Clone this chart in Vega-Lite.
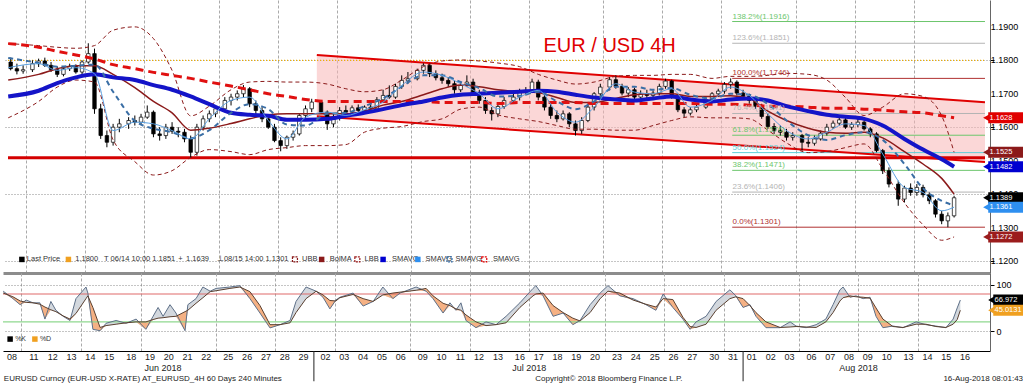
{
"$schema": "https://vega.github.io/schema/vega-lite/v6.json",
"padding": 0,
"background": "white",
"spacing": 0,
"bounds": "flush",
"config": {"view": {"stroke": null}, "font": "Liberation Sans, Arial, sans-serif", "axis": {"labelFont": "Liberation Sans, Arial, sans-serif", "labelFontSize": 9, "labelOverlap": false}, "text": {"font": "Liberation Sans, Arial, sans-serif"}},
"datasets": {
"one": [{}],
"plabels": [{"v":1.12,"t":"1.1200"},{"v":1.13,"t":"1.1300"},{"v":1.14,"t":"1.1400"},{"v":1.15,"t":"1.1500"},{"v":1.16,"t":"1.1600"},{"v":1.17,"t":"1.1700"},{"v":1.18,"t":"1.1800"},{"v":1.19,"t":"1.1900"}],
"chan": [{"i":96.65,"up":1.18156,"lo":1.16326},{"i":311.96,"up":1.16744,"lo":1.14958}],
"fib": [
{"v":1.1916,"t":"138.2%(1.1916)","k":"fg"},
{"v":1.1851,"t":"123.6%(1.1851)","k":"fy"},
{"v":1.1746,"t":"100.0%(1.1746)","k":"fr"},
{"v":1.1641,"t":"76.4%(1.1641)","k":"fy"},
{"v":1.1576,"t":"61.8%(1.1576)","k":"fg"},
{"v":1.1524,"t":"50.0%(1.1524)","k":"fc"},
{"v":1.1471,"t":"38.2%(1.1471)","k":"fg"},
{"v":1.1406,"t":"23.6%(1.1406)","k":"fy"},
{"v":1.1301,"t":"0.0%(1.1301)","k":"fr"}],
"candles": [
{"i":-2,"o":1.1795,"h":1.1808,"l":1.177,"c":1.1775},
{"i":0,"o":1.1775,"h":1.179,"l":1.1758,"c":1.1768},
{"i":2,"o":1.1768,"h":1.1785,"l":1.176,"c":1.1772},
{"i":5,"o":1.1772,"h":1.18,"l":1.1765,"c":1.179},
{"i":7,"o":1.179,"h":1.1805,"l":1.178,"c":1.1798},
{"i":9,"o":1.1798,"h":1.1808,"l":1.178,"c":1.1785},
{"i":11,"o":1.1785,"h":1.1795,"l":1.1765,"c":1.1772},
{"i":13,"o":1.1772,"h":1.1782,"l":1.175,"c":1.1758},
{"i":15,"o":1.1758,"h":1.178,"l":1.1752,"c":1.1775},
{"i":17,"o":1.1775,"h":1.179,"l":1.1768,"c":1.1782},
{"i":19,"o":1.1782,"h":1.1788,"l":1.176,"c":1.1765},
{"i":21,"o":1.1765,"h":1.18,"l":1.1758,"c":1.1795},
{"i":23,"o":1.1795,"h":1.1851,"l":1.179,"c":1.182},
{"i":25,"o":1.182,"h":1.1835,"l":1.164,"c":1.1655},
{"i":27,"o":1.1655,"h":1.167,"l":1.1565,"c":1.1575},
{"i":29,"o":1.1575,"h":1.159,"l":1.154,"c":1.1555},
{"i":31,"o":1.1555,"h":1.161,"l":1.1545,"c":1.16},
{"i":33,"o":1.16,"h":1.1625,"l":1.1585,"c":1.161},
{"i":36,"o":1.161,"h":1.163,"l":1.1595,"c":1.162},
{"i":38,"o":1.162,"h":1.1635,"l":1.1605,"c":1.1615},
{"i":40,"o":1.1615,"h":1.164,"l":1.1608,"c":1.163},
{"i":42,"o":1.163,"h":1.1665,"l":1.1625,"c":1.1645},
{"i":44,"o":1.1645,"h":1.165,"l":1.157,"c":1.158},
{"i":46,"o":1.158,"h":1.16,"l":1.156,"c":1.1575},
{"i":48,"o":1.1575,"h":1.161,"l":1.1565,"c":1.16},
{"i":50,"o":1.16,"h":1.1615,"l":1.158,"c":1.1588},
{"i":52,"o":1.1588,"h":1.16,"l":1.157,"c":1.1585},
{"i":54,"o":1.1585,"h":1.1595,"l":1.1555,"c":1.1565},
{"i":56,"o":1.1565,"h":1.1575,"l":1.1508,"c":1.1525},
{"i":58,"o":1.1525,"h":1.161,"l":1.1515,"c":1.16},
{"i":60,"o":1.16,"h":1.1635,"l":1.159,"c":1.1625},
{"i":62,"o":1.1625,"h":1.165,"l":1.1615,"c":1.164},
{"i":64,"o":1.164,"h":1.1665,"l":1.163,"c":1.1655},
{"i":67,"o":1.1655,"h":1.169,"l":1.1645,"c":1.168},
{"i":69,"o":1.168,"h":1.17,"l":1.1665,"c":1.169},
{"i":71,"o":1.169,"h":1.171,"l":1.168,"c":1.17},
{"i":73,"o":1.17,"h":1.1726,"l":1.169,"c":1.1715},
{"i":75,"o":1.1715,"h":1.172,"l":1.166,"c":1.167},
{"i":77,"o":1.167,"h":1.168,"l":1.164,"c":1.165},
{"i":79,"o":1.165,"h":1.166,"l":1.1615,"c":1.1625},
{"i":81,"o":1.1625,"h":1.1635,"l":1.1595,"c":1.16},
{"i":83,"o":1.16,"h":1.161,"l":1.1555,"c":1.156},
{"i":85,"o":1.156,"h":1.157,"l":1.1528,"c":1.1545},
{"i":87,"o":1.1545,"h":1.1575,"l":1.1535,"c":1.157},
{"i":89,"o":1.157,"h":1.159,"l":1.156,"c":1.158},
{"i":91,"o":1.158,"h":1.164,"l":1.1575,"c":1.1635},
{"i":93,"o":1.1635,"h":1.1665,"l":1.1625,"c":1.1655},
{"i":95,"o":1.1655,"h":1.1685,"l":1.1645,"c":1.1675},
{"i":98,"o":1.1675,"h":1.168,"l":1.164,"c":1.1645},
{"i":100,"o":1.1645,"h":1.165,"l":1.1592,"c":1.161},
{"i":102,"o":1.161,"h":1.164,"l":1.16,"c":1.163},
{"i":104,"o":1.163,"h":1.166,"l":1.162,"c":1.165},
{"i":106,"o":1.165,"h":1.1665,"l":1.1635,"c":1.1645},
{"i":108,"o":1.1645,"h":1.1665,"l":1.164,"c":1.1658},
{"i":110,"o":1.1658,"h":1.1668,"l":1.164,"c":1.165},
{"i":112,"o":1.165,"h":1.1665,"l":1.1645,"c":1.166},
{"i":114,"o":1.166,"h":1.1668,"l":1.1648,"c":1.1655},
{"i":116,"o":1.1655,"h":1.169,"l":1.165,"c":1.1682},
{"i":118,"o":1.1682,"h":1.1712,"l":1.1675,"c":1.1695},
{"i":120,"o":1.1695,"h":1.1725,"l":1.1685,"c":1.169},
{"i":122,"o":1.169,"h":1.173,"l":1.1685,"c":1.1722},
{"i":124,"o":1.1722,"h":1.1755,"l":1.1715,"c":1.174},
{"i":126,"o":1.174,"h":1.1765,"l":1.173,"c":1.1745},
{"i":129,"o":1.1745,"h":1.1775,"l":1.174,"c":1.177},
{"i":131,"o":1.177,"h":1.1791,"l":1.176,"c":1.1785},
{"i":133,"o":1.1785,"h":1.179,"l":1.175,"c":1.176},
{"i":135,"o":1.176,"h":1.177,"l":1.174,"c":1.1748},
{"i":137,"o":1.1748,"h":1.176,"l":1.173,"c":1.174},
{"i":139,"o":1.174,"h":1.175,"l":1.172,"c":1.173},
{"i":141,"o":1.173,"h":1.174,"l":1.17,"c":1.1712},
{"i":143,"o":1.1712,"h":1.1735,"l":1.1705,"c":1.1725},
{"i":145,"o":1.1725,"h":1.1755,"l":1.172,"c":1.1735},
{"i":147,"o":1.1735,"h":1.1745,"l":1.1695,"c":1.17},
{"i":149,"o":1.17,"h":1.1712,"l":1.167,"c":1.168},
{"i":151,"o":1.168,"h":1.169,"l":1.164,"c":1.165},
{"i":153,"o":1.165,"h":1.166,"l":1.162,"c":1.164},
{"i":155,"o":1.164,"h":1.167,"l":1.163,"c":1.1662},
{"i":157,"o":1.1662,"h":1.169,"l":1.1655,"c":1.168},
{"i":160,"o":1.168,"h":1.17,"l":1.167,"c":1.169},
{"i":162,"o":1.169,"h":1.1715,"l":1.168,"c":1.1708},
{"i":164,"o":1.1708,"h":1.172,"l":1.1695,"c":1.171},
{"i":166,"o":1.171,"h":1.1745,"l":1.1705,"c":1.1735},
{"i":168,"o":1.1735,"h":1.1742,"l":1.168,"c":1.169},
{"i":170,"o":1.169,"h":1.17,"l":1.165,"c":1.166},
{"i":172,"o":1.166,"h":1.167,"l":1.1625,"c":1.1635},
{"i":174,"o":1.1635,"h":1.165,"l":1.1615,"c":1.1625},
{"i":176,"o":1.1625,"h":1.165,"l":1.162,"c":1.164},
{"i":178,"o":1.164,"h":1.1645,"l":1.16,"c":1.161},
{"i":180,"o":1.161,"h":1.162,"l":1.1575,"c":1.159},
{"i":182,"o":1.159,"h":1.163,"l":1.158,"c":1.162},
{"i":184,"o":1.162,"h":1.167,"l":1.1615,"c":1.166},
{"i":186,"o":1.166,"h":1.1705,"l":1.165,"c":1.17},
{"i":188,"o":1.17,"h":1.173,"l":1.169,"c":1.172},
{"i":191,"o":1.172,"h":1.175,"l":1.171,"c":1.1742},
{"i":193,"o":1.1742,"h":1.1755,"l":1.1715,"c":1.1722},
{"i":195,"o":1.1722,"h":1.173,"l":1.1695,"c":1.1702},
{"i":197,"o":1.1702,"h":1.172,"l":1.169,"c":1.1712},
{"i":199,"o":1.1712,"h":1.1718,"l":1.168,"c":1.169},
{"i":201,"o":1.169,"h":1.171,"l":1.1685,"c":1.17},
{"i":203,"o":1.17,"h":1.1712,"l":1.1685,"c":1.1695},
{"i":205,"o":1.1695,"h":1.171,"l":1.1688,"c":1.1702},
{"i":207,"o":1.1702,"h":1.173,"l":1.1695,"c":1.1722},
{"i":209,"o":1.1722,"h":1.1745,"l":1.1715,"c":1.1738},
{"i":211,"o":1.1738,"h":1.1742,"l":1.1685,"c":1.1692},
{"i":213,"o":1.1692,"h":1.17,"l":1.1645,"c":1.1652},
{"i":215,"o":1.1652,"h":1.166,"l":1.163,"c":1.1642},
{"i":217,"o":1.1642,"h":1.166,"l":1.1635,"c":1.1652},
{"i":219,"o":1.1652,"h":1.167,"l":1.1645,"c":1.166},
{"i":222,"o":1.166,"h":1.169,"l":1.1655,"c":1.1682},
{"i":224,"o":1.1682,"h":1.1705,"l":1.1675,"c":1.17},
{"i":226,"o":1.17,"h":1.1715,"l":1.169,"c":1.1708},
{"i":228,"o":1.1708,"h":1.1735,"l":1.17,"c":1.1728},
{"i":230,"o":1.1728,"h":1.1746,"l":1.1715,"c":1.1735},
{"i":232,"o":1.1735,"h":1.174,"l":1.1695,"c":1.1702},
{"i":234,"o":1.1702,"h":1.1712,"l":1.1685,"c":1.1692},
{"i":236,"o":1.1692,"h":1.17,"l":1.167,"c":1.168},
{"i":238,"o":1.168,"h":1.169,"l":1.1655,"c":1.1662},
{"i":240,"o":1.1662,"h":1.167,"l":1.1625,"c":1.1632},
{"i":242,"o":1.1632,"h":1.164,"l":1.1595,"c":1.1602},
{"i":244,"o":1.1602,"h":1.1612,"l":1.158,"c":1.159},
{"i":246,"o":1.159,"h":1.1605,"l":1.1575,"c":1.1585},
{"i":248,"o":1.1585,"h":1.1595,"l":1.156,"c":1.157},
{"i":250,"o":1.157,"h":1.1585,"l":1.156,"c":1.1575},
{"i":253,"o":1.1575,"h":1.158,"l":1.153,"c":1.1555},
{"i":255,"o":1.1555,"h":1.157,"l":1.154,"c":1.1552},
{"i":257,"o":1.1552,"h":1.1575,"l":1.1545,"c":1.1565},
{"i":259,"o":1.1565,"h":1.159,"l":1.156,"c":1.1582},
{"i":261,"o":1.1582,"h":1.161,"l":1.1575,"c":1.16},
{"i":263,"o":1.16,"h":1.162,"l":1.1595,"c":1.1612},
{"i":265,"o":1.1612,"h":1.163,"l":1.1605,"c":1.1622},
{"i":267,"o":1.1622,"h":1.1628,"l":1.1595,"c":1.16},
{"i":269,"o":1.16,"h":1.1615,"l":1.1592,"c":1.1608},
{"i":271,"o":1.1608,"h":1.1625,"l":1.16,"c":1.1615},
{"i":273,"o":1.1615,"h":1.162,"l":1.159,"c":1.1595},
{"i":275,"o":1.1595,"h":1.16,"l":1.157,"c":1.158},
{"i":277,"o":1.158,"h":1.1585,"l":1.1525,"c":1.153},
{"i":279,"o":1.153,"h":1.1535,"l":1.146,"c":1.147},
{"i":281,"o":1.147,"h":1.148,"l":1.142,"c":1.143},
{"i":284,"o":1.143,"h":1.144,"l":1.1365,"c":1.1385},
{"i":286,"o":1.1385,"h":1.1425,"l":1.1375,"c":1.1418},
{"i":288,"o":1.1418,"h":1.1432,"l":1.1395,"c":1.1405},
{"i":290,"o":1.1405,"h":1.143,"l":1.1395,"c":1.142},
{"i":292,"o":1.142,"h":1.1428,"l":1.139,"c":1.1398},
{"i":294,"o":1.1398,"h":1.1405,"l":1.137,"c":1.138},
{"i":296,"o":1.138,"h":1.1385,"l":1.133,"c":1.134},
{"i":298,"o":1.134,"h":1.135,"l":1.131,"c":1.132},
{"i":300,"o":1.132,"h":1.1345,"l":1.1301,"c":1.1335},
{"i":302,"o":1.1335,"h":1.1395,"l":1.133,"c":1.1389}],
"ind": [
{"i":-2.8,"sl":1.1692,"sr":1.185,"ma":1.1741,"ub":1.185,"lb":1.1628,"sm":1.1807,"sf":1.1778},
{"i":7,"sl":1.1709,"sr":1.1839,"ma":1.1758,"ub":1.1844,"lb":1.1677,"sm":1.1792,"sf":1.179},
{"i":13,"sl":1.1732,"sr":1.1827,"ma":1.1775,"ub":1.1839,"lb":1.172,"sm":1.1781,"sf":1.177},
{"i":19,"sl":1.1749,"sr":1.1816,"ma":1.1784,"ub":1.1836,"lb":1.1741,"sm":1.1784,"sf":1.1778},
{"i":25,"sl":1.1758,"sr":1.1804,"ma":1.1784,"ub":1.1844,"lb":1.1735,"sm":1.1787,"sf":1.176},
{"i":31,"sl":1.1749,"sr":1.1787,"ma":1.1758,"ub":1.189,"lb":1.1562,"sm":1.1706,"sf":1.159},
{"i":38,"sl":1.1741,"sr":1.1775,"ma":1.1718,"ub":1.19,"lb":1.1497,"sm":1.1619,"sf":1.1615},
{"i":44,"sl":1.1726,"sr":1.1764,"ma":1.1677,"ub":1.1865,"lb":1.1457,"sm":1.1596,"sf":1.161},
{"i":50,"sl":1.1712,"sr":1.1755,"ma":1.1643,"ub":1.177,"lb":1.147,"sm":1.1585,"sf":1.159},
{"i":56,"sl":1.1692,"sr":1.1746,"ma":1.1591,"ub":1.1634,"lb":1.151,"sm":1.1567,"sf":1.1565},
{"i":62,"sl":1.1669,"sr":1.1735,"ma":1.1597,"ub":1.1663,"lb":1.1533,"sm":1.1591,"sf":1.1625},
{"i":69,"sl":1.1643,"sr":1.1723,"ma":1.1611,"ub":1.1712,"lb":1.1527,"sm":1.1643,"sf":1.168},
{"i":75,"sl":1.1637,"sr":1.1712,"ma":1.1625,"ub":1.1735,"lb":1.1518,"sm":1.1669,"sf":1.169},
{"i":81,"sl":1.1634,"sr":1.17,"ma":1.1637,"ub":1.1737,"lb":1.1533,"sm":1.1654,"sf":1.162},
{"i":87,"sl":1.1622,"sr":1.1692,"ma":1.164,"ub":1.1735,"lb":1.1539,"sm":1.1608,"sf":1.1565},
{"i":93,"sl":1.1622,"sr":1.1683,"ma":1.164,"ub":1.1735,"lb":1.1545,"sm":1.1605,"sf":1.163},
{"i":100,"sl":1.1625,"sr":1.1677,"ma":1.164,"ub":1.1729,"lb":1.1545,"sm":1.164,"sf":1.1645},
{"i":106,"sl":1.1634,"sr":1.1677,"ma":1.164,"ub":1.1715,"lb":1.1548,"sm":1.1643,"sf":1.1635},
{"i":112,"sl":1.1643,"sr":1.1677,"ma":1.1648,"ub":1.1706,"lb":1.1585,"sm":1.1663,"sf":1.1652},
{"i":118,"sl":1.1654,"sr":1.1677,"ma":1.1666,"ub":1.1712,"lb":1.1597,"sm":1.1686,"sf":1.1675},
{"i":124,"sl":1.1666,"sr":1.1677,"ma":1.1677,"ub":1.1741,"lb":1.1602,"sm":1.1721,"sf":1.1725},
{"i":131,"sl":1.1677,"sr":1.1677,"ma":1.1697,"ub":1.1781,"lb":1.1617,"sm":1.1755,"sf":1.1765},
{"i":137,"sl":1.1689,"sr":1.1674,"ma":1.1715,"ub":1.1798,"lb":1.1625,"sm":1.1755,"sf":1.1755},
{"i":143,"sl":1.1697,"sr":1.1674,"ma":1.1726,"ub":1.1801,"lb":1.1654,"sm":1.1735,"sf":1.173},
{"i":149,"sl":1.17,"sr":1.1674,"ma":1.1721,"ub":1.1798,"lb":1.166,"sm":1.1717,"sf":1.17},
{"i":155,"sl":1.1703,"sr":1.1671,"ma":1.1712,"ub":1.1792,"lb":1.1637,"sm":1.1692,"sf":1.1655},
{"i":162,"sl":1.1706,"sr":1.1674,"ma":1.1706,"ub":1.1781,"lb":1.1625,"sm":1.1694,"sf":1.169},
{"i":168,"sl":1.1709,"sr":1.1674,"ma":1.1703,"ub":1.1758,"lb":1.1617,"sm":1.1706,"sf":1.171},
{"i":174,"sl":1.1706,"sr":1.1674,"ma":1.1689,"ub":1.1741,"lb":1.1605,"sm":1.1677,"sf":1.1645},
{"i":180,"sl":1.1697,"sr":1.1674,"ma":1.1674,"ub":1.1729,"lb":1.1594,"sm":1.1654,"sf":1.1615},
{"i":186,"sl":1.1689,"sr":1.1671,"ma":1.1674,"ub":1.1735,"lb":1.1594,"sm":1.1677,"sf":1.166},
{"i":193,"sl":1.1683,"sr":1.1671,"ma":1.1686,"ub":1.1752,"lb":1.1591,"sm":1.1721,"sf":1.173},
{"i":199,"sl":1.168,"sr":1.1671,"ma":1.1697,"ub":1.1755,"lb":1.1591,"sm":1.1721,"sf":1.1705},
{"i":205,"sl":1.1686,"sr":1.1671,"ma":1.17,"ub":1.1755,"lb":1.1605,"sm":1.1712,"sf":1.17},
{"i":211,"sl":1.1692,"sr":1.1671,"ma":1.17,"ub":1.1758,"lb":1.162,"sm":1.1717,"sf":1.1715},
{"i":217,"sl":1.1683,"sr":1.1671,"ma":1.1692,"ub":1.1758,"lb":1.1631,"sm":1.1697,"sf":1.166},
{"i":224,"sl":1.1677,"sr":1.1669,"ma":1.1692,"ub":1.1746,"lb":1.1628,"sm":1.1686,"sf":1.168},
{"i":230,"sl":1.1683,"sr":1.1669,"ma":1.1694,"ub":1.1752,"lb":1.1628,"sm":1.17,"sf":1.172},
{"i":236,"sl":1.1686,"sr":1.1666,"ma":1.1686,"ub":1.1752,"lb":1.1625,"sm":1.1697,"sf":1.1695},
{"i":242,"sl":1.168,"sr":1.1663,"ma":1.1648,"ub":1.1755,"lb":1.1591,"sm":1.1669,"sf":1.164},
{"i":248,"sl":1.1663,"sr":1.1663,"ma":1.162,"ub":1.1761,"lb":1.1553,"sm":1.162,"sf":1.159},
{"i":255,"sl":1.1648,"sr":1.166,"ma":1.1597,"ub":1.1758,"lb":1.1524,"sm":1.1576,"sf":1.1565},
{"i":261,"sl":1.1637,"sr":1.1657,"ma":1.1585,"ub":1.1741,"lb":1.1527,"sm":1.1562,"sf":1.1585},
{"i":267,"sl":1.1631,"sr":1.1657,"ma":1.1582,"ub":1.1689,"lb":1.1539,"sm":1.1576,"sf":1.161},
{"i":273,"sl":1.1625,"sr":1.1654,"ma":1.1585,"ub":1.1635,"lb":1.155,"sm":1.1585,"sf":1.1605},
{"i":279,"sl":1.1605,"sr":1.1651,"ma":1.1568,"ub":1.166,"lb":1.1475,"sm":1.1562,"sf":1.152},
{"i":286,"sl":1.1565,"sr":1.1646,"ma":1.1527,"ub":1.17,"lb":1.1374,"sm":1.149,"sf":1.142},
{"i":292,"sl":1.1533,"sr":1.1643,"ma":1.149,"ub":1.1692,"lb":1.1308,"sm":1.1417,"sf":1.1405},
{"i":298,"sl":1.1504,"sr":1.1634,"ma":1.1447,"ub":1.1634,"lb":1.1262,"sm":1.138,"sf":1.135},
{"i":302,"sl":1.1482,"sr":1.1628,"ma":1.14,"ub":1.1525,"lb":1.1272,"sm":1.1366,"sf":1.1361}],
"leg": [{"i":3.2,"t":"Last Price"},{"i":18.8,"t":"1.1800"},{"i":28.1,"t":"T"},{"i":30.2,"t":"06/14 10:00 1.1851"},{"i":52,"t":"+"},{"i":54.5,"t":"1.1639"},{"i":64.4,"t":"⊥"},{"i":66.7,"t":"08/15 14:00 1.1301"},{"i":91.9,"t":"UBB"},{"i":100.8,"t":"BolMA"},{"i":112,"t":"LBB"},{"i":120.9,"t":"SMAVG"},{"i":131.7,"t":"SMAVG"},{"i":141.3,"t":"SMAVG"},{"i":153.4,"t":"SMAVG"}],
"legsym": [{"i":1.6,"k":"last"},{"i":16.6,"k":"ref"},{"i":98.2,"k":"bolma"},{"i":118,"k":"sl"},{"i":129.2,"k":"sf"}],
"legicon": [{"i":89.6,"k":"ubb"},{"i":109.7,"k":"lbb"},{"i":139.4,"k":"sm"},{"i":150.6,"k":"sr"}],
"tags": [{"v":1.1628,"t":"1.1628","k":"sr"},{"v":1.1525,"t":"1.1525","k":"ubb"},{"v":1.1482,"t":"1.1482","k":"sl"},{"v":1.1389,"t":"1.1389","k":"last"},{"v":1.1361,"t":"1.1361","k":"sf"},{"v":1.1272,"t":"1.1272","k":"lbb"}],
"stoch": [
{"i":-2.8,"k":86,"d":82,"lo":82},{"i":0.3,"k":70,"d":74,"lo":70},{"i":2.6,"k":57,"d":65,"lo":57},{"i":4.5,"k":67,"d":62,"lo":62},{"i":6.7,"k":61,"d":61,"lo":61},{"i":8.9,"k":61,"d":58,"lo":58},{"i":10.5,"k":26,"d":52,"lo":26},{"i":12.4,"k":64,"d":46,"lo":46},{"i":14,"k":45,"d":42,"lo":42},{"i":16.3,"k":32,"d":33,"lo":32},{"i":18.5,"k":23,"d":26,"lo":23},{"i":20.4,"k":70,"d":38,"lo":38},{"i":23.6,"k":95,"d":70,"lo":70},{"i":24.2,"k":82,"d":76,"lo":76},{"i":25.8,"k":4,"d":51,"lo":4},{"i":28.1,"k":1,"d":8,"lo":1},{"i":30,"k":17,"d":12,"lo":12},{"i":33.2,"k":23,"d":15,"lo":15},{"i":36.4,"k":17,"d":18,"lo":17},{"i":39.6,"k":26,"d":20,"lo":20},{"i":42.7,"k":4,"d":20,"lo":4},{"i":45,"k":32,"d":25,"lo":25},{"i":46.6,"k":51,"d":28,"lo":28},{"i":48.2,"k":32,"d":29,"lo":29},{"i":50.4,"k":57,"d":31,"lo":31},{"i":52.3,"k":39,"d":32,"lo":32},{"i":55.2,"k":1,"d":42,"lo":1},{"i":56.1,"k":57,"d":45,"lo":45},{"i":58.7,"k":70,"d":60,"lo":60},{"i":60.9,"k":95,"d":72,"lo":72},{"i":63.2,"k":86,"d":85,"lo":85},{"i":65.1,"k":92,"d":87,"lo":87},{"i":69.5,"k":95,"d":92,"lo":92},{"i":72.7,"k":98,"d":95,"lo":95},{"i":75.9,"k":70,"d":85,"lo":70},{"i":79.1,"k":39,"d":55,"lo":39},{"i":82.3,"k":7,"d":14,"lo":7},{"i":85.5,"k":14,"d":14,"lo":14},{"i":88.7,"k":23,"d":18,"lo":18},{"i":90.6,"k":64,"d":40,"lo":40},{"i":93.8,"k":95,"d":70,"lo":70},{"i":97,"k":86,"d":86,"lo":86},{"i":99.2,"k":73,"d":78,"lo":73},{"i":101.4,"k":48,"d":66,"lo":48},{"i":103.3,"k":67,"d":65,"lo":65},{"i":104.6,"k":73,"d":72,"lo":72},{"i":108.8,"k":82,"d":79,"lo":79},{"i":112,"k":54,"d":70,"lo":54},{"i":115.2,"k":64,"d":64,"lo":64},{"i":118.3,"k":95,"d":78,"lo":78},{"i":121.5,"k":70,"d":82,"lo":70},{"i":123.8,"k":82,"d":84,"lo":82},{"i":128.9,"k":95,"d":88,"lo":88},{"i":132.1,"k":86,"d":92,"lo":86},{"i":134.3,"k":70,"d":76,"lo":70},{"i":137.5,"k":39,"d":60,"lo":39},{"i":139.7,"k":61,"d":55,"lo":55},{"i":141.6,"k":45,"d":48,"lo":45},{"i":143.2,"k":61,"d":45,"lo":45},{"i":144.8,"k":23,"d":35,"lo":23},{"i":148,"k":7.5,"d":20,"lo":7.5},{"i":151.2,"k":20,"d":12,"lo":12},{"i":154.4,"k":14,"d":14,"lo":14},{"i":157.6,"k":32,"d":18,"lo":18},{"i":162,"k":61,"d":51,"lo":51},{"i":166.2,"k":92,"d":76,"lo":76},{"i":167.1,"k":98,"d":80,"lo":80},{"i":169.4,"k":76,"d":82,"lo":76},{"i":172.6,"k":32,"d":55,"lo":32},{"i":175.8,"k":39,"d":40,"lo":39},{"i":178.9,"k":14,"d":28,"lo":14},{"i":181.2,"k":23,"d":22,"lo":22},{"i":184.4,"k":57,"d":40,"lo":40},{"i":187.6,"k":82,"d":70,"lo":70},{"i":190.1,"k":98,"d":86,"lo":86},{"i":193.9,"k":76,"d":82,"lo":76},{"i":198.1,"k":70,"d":67,"lo":67},{"i":202.2,"k":57,"d":58,"lo":57},{"i":205.4,"k":45,"d":52,"lo":45},{"i":207.7,"k":80,"d":70,"lo":70},{"i":210.8,"k":51,"d":68,"lo":51},{"i":214,"k":26,"d":30,"lo":26},{"i":216.3,"k":4,"d":10,"lo":4},{"i":218.2,"k":20,"d":8,"lo":8},{"i":221.4,"k":32,"d":15,"lo":15},{"i":224.6,"k":64,"d":45,"lo":45},{"i":229,"k":89,"d":70,"lo":70},{"i":230.9,"k":76,"d":74,"lo":74},{"i":233.2,"k":51,"d":70,"lo":51},{"i":235.4,"k":57,"d":55,"lo":55},{"i":237.3,"k":32,"d":40,"lo":32},{"i":240.5,"k":7.5,"d":20,"lo":7.5},{"i":245,"k":7.5,"d":8,"lo":7.5},{"i":248.2,"k":20,"d":9,"lo":9},{"i":250.1,"k":11,"d":10,"lo":10},{"i":253.3,"k":7.5,"d":9,"lo":7.5},{"i":256.5,"k":14,"d":8,"lo":8},{"i":259.6,"k":26,"d":20,"lo":20},{"i":261.9,"k":57,"d":40,"lo":40},{"i":264.1,"k":89,"d":65,"lo":65},{"i":265.1,"k":95,"d":72,"lo":72},{"i":267.3,"k":73,"d":76,"lo":73},{"i":269.2,"k":76,"d":74,"lo":74},{"i":271.5,"k":70,"d":73,"lo":70},{"i":273.7,"k":73,"d":71,"lo":71},{"i":275.6,"k":32,"d":50,"lo":32},{"i":277.8,"k":7.5,"d":26,"lo":7.5},{"i":281,"k":11,"d":10,"lo":10},{"i":284.2,"k":7.5,"d":8,"lo":7.5},{"i":288.4,"k":20,"d":15,"lo":15},{"i":291.5,"k":14,"d":15,"lo":14},{"i":294.7,"k":11,"d":10,"lo":10},{"i":297.9,"k":7.5,"d":8,"lo":7.5},{"i":300.2,"k":26,"d":15,"lo":15},{"i":301.5,"k":50,"d":25,"lo":25},{"i":302.5,"k":67,"d":45,"lo":45}],
"stags": [{"v":66.972,"t":"66.972","k":"K"},{"v":45.0131,"t":"45.0131","k":"D"}],
"slegsym": [{"i":-0.6,"k":"K"},{"i":7.3,"k":"D"}],
"slegtxt": [{"i":1.0,"t":"%K"},{"i":8.9,"t":"%D"}],
"days": [{"i":0,"d":"08"},{"i":7,"d":"11"},{"i":13,"d":"12"},{"i":19,"d":"13"},{"i":25,"d":"14"},{"i":31,"d":"15"},{"i":38,"d":"18"},{"i":44,"d":"19"},{"i":50,"d":"20"},{"i":56,"d":"21"},{"i":62,"d":"22"},{"i":69,"d":"25"},{"i":75,"d":"26"},{"i":81,"d":"27"},{"i":87,"d":"28"},{"i":93,"d":"29"},{"i":100,"d":"02"},{"i":106,"d":"03"},{"i":112,"d":"04"},{"i":118,"d":"05"},{"i":124,"d":"06"},{"i":131,"d":"09"},{"i":137,"d":"10"},{"i":143,"d":"11"},{"i":149,"d":"12"},{"i":155,"d":"13"},{"i":162,"d":"16"},{"i":168,"d":"17"},{"i":174,"d":"18"},{"i":180,"d":"19"},{"i":186,"d":"20"},{"i":193,"d":"23"},{"i":199,"d":"24"},{"i":205,"d":"25"},{"i":211,"d":"26"},{"i":217,"d":"27"},{"i":224,"d":"30"},{"i":230,"d":"31"},{"i":236,"d":"01"},{"i":242,"d":"02"},{"i":248,"d":"03"},{"i":255,"d":"06"},{"i":261,"d":"07"},{"i":267,"d":"08"},{"i":273,"d":"09"},{"i":279,"d":"10"},{"i":286,"d":"13"},{"i":292,"d":"14"},{"i":298,"d":"15"},{"i":304,"d":"16"}],
"months": [{"i":48.2,"m":"Jun 2018"},{"i":165,"m":"Jul 2018"},{"i":270,"m":"Aug 2018"}],
"foot": [{"i":-2.6,"t":"EURUSD Curncy (EUR-USD X-RATE) AT_EURUSD_4H 60 Days 240 Minutes"}],
"foot2": [{"i":190.4,"t":"Copyright© 2018 Bloomberg Finance L.P."}],
"foot3": [{"i":322.5,"t":"16-Aug-2018 08:01:43"}],
"seps": [{"i":96.3},{"i":233.2}]
},
"vconcat": [
{
"width": 987, "height": 273,
"layer": [
{"data": {"name": "chan"}, "mark": {"type": "area", "fill": "#f7b6b6", "opacity": 0.55},
 "encoding": {
  "x": {"field": "i", "type": "quantitative", "scale": {"domain": [-2.87, 311.96], "nice": false, "zero": false}, "axis": {"orient": "bottom", "values": [3,4,10,16,22,28,34,35,41,47,53,59,65,66,72,78,84,90,96,97,103,109,115,121,127,128,134,140,146,152,158,159,165,171,177,183,189,190,196,202,208,214,220,221,227,233,239,245,251,252,258,264,270,276,282,283,289,295,301,307], "grid": true, "gridDash": [3,2], "gridColor": "#aaaaaa", "labels": false, "ticks": false, "domainColor": "#8c8c8c", "domainWidth": 3, "title": null}},
  "y": {"field": "up", "type": "quantitative", "scale": {"domain": [1.1179, 1.19654], "nice": false, "zero": false}, "axis": {"orient": "right", "values": [1.12,1.13,1.14,1.15,1.16,1.17,1.18,1.19], "labels": false, "grid": true, "gridDash": [1,2], "gridColor": "#8a8a8a", "tickSize": 4, "tickColor": "#000", "domainColor": "#666", "title": null}},
  "y2": {"field": "lo"}}},
{"data": {"name": "one"}, "mark": {"type": "rule", "stroke": "#f0b000", "strokeDash": [1,2], "strokeWidth": 1.2},
 "encoding": {"x": {"datum": -2.87, "type": "quantitative", "scale": {"domain": [-2.87, 311.96], "nice": false, "zero": false}}, "x2": {"datum": 311.96}, "y": {"datum": 1.18, "type": "quantitative", "scale": {"domain": [1.1179, 1.19654], "nice": false, "zero": false}}}},
{"data": {"name": "fib"}, "mark": {"type": "rule", "strokeWidth": 1},
 "encoding": {"x": {"datum": 230.5, "type": "quantitative", "scale": {"domain": [-2.87, 311.96], "nice": false, "zero": false}}, "x2": {"datum": 311.96}, "y": {"field": "v", "type": "quantitative", "scale": {"domain": [1.1179, 1.19654], "nice": false, "zero": false}},
  "color": {"field": "k", "type": "nominal", "legend": null, "scale": {"domain": ["last","ref","bolma","sl","sf","ubb","lbb","sm","sr","fg","fy","fr","fc"], "range": ["#000000","#f0a020","#8b1a1a","#0000d0","#2e8ff0","#8b1a1a","#9b1c1c","#3a6ea5","#e00000","#6cc66c","#b4b4b4","#b03030","#5fcfd8"]}}}},
{"data": {"name": "one"}, "mark": {"type": "rule", "stroke": "#d40000", "strokeWidth": 3},
 "encoding": {"x": {"datum": -2.87, "type": "quantitative", "scale": {"domain": [-2.87, 311.96], "nice": false, "zero": false}}, "x2": {"datum": 311.96}, "y": {"datum": 1.1509, "type": "quantitative", "scale": {"domain": [1.1179, 1.19654], "nice": false, "zero": false}}}},
{"data": {"name": "chan"}, "mark": {"type": "line", "stroke": "#e00000", "strokeWidth": 2},
 "encoding": {"x": {"field": "i", "type": "quantitative", "scale": {"domain": [-2.87, 311.96], "nice": false, "zero": false}}, "y": {"field": "up", "type": "quantitative", "scale": {"domain": [1.1179, 1.19654], "nice": false, "zero": false}}}},
{"data": {"name": "chan"}, "mark": {"type": "line", "stroke": "#e00000", "strokeWidth": 2},
 "encoding": {"x": {"field": "i", "type": "quantitative", "scale": {"domain": [-2.87, 311.96], "nice": false, "zero": false}}, "y": {"field": "lo", "type": "quantitative", "scale": {"domain": [1.1179, 1.19654], "nice": false, "zero": false}}}},
{"data": {"name": "candles"}, "mark": {"type": "rule", "stroke": "#000", "strokeWidth": 1},
 "encoding": {"x": {"field": "i", "type": "quantitative", "scale": {"domain": [-2.87, 311.96], "nice": false, "zero": false}}, "y": {"field": "l", "type": "quantitative", "scale": {"domain": [1.1179, 1.19654], "nice": false, "zero": false}}, "y2": {"field": "h"}}},
{"data": {"name": "candles"}, "mark": {"type": "bar", "size": 3.5, "stroke": "#000", "strokeWidth": 0.7},
 "encoding": {"x": {"field": "i", "type": "quantitative", "scale": {"domain": [-2.87, 311.96], "nice": false, "zero": false}}, "y": {"field": "o", "type": "quantitative", "scale": {"domain": [1.1179, 1.19654], "nice": false, "zero": false}}, "y2": {"field": "c"},
  "fill": {"condition": {"test": "datum.c >= datum.o", "value": "#ffffff"}, "value": "#000000"}}},
{"data": {"name": "ind"}, "mark": {"type": "line", "stroke": "#8b1a1a", "strokeWidth": 1, "strokeDash": [4,3], "interpolate": "monotone"},
 "encoding": {"x": {"field": "i", "type": "quantitative", "scale": {"domain": [-2.87, 311.96], "nice": false, "zero": false}}, "y": {"field": "ub", "type": "quantitative", "scale": {"domain": [1.1179, 1.19654], "nice": false, "zero": false}}}},
{"data": {"name": "ind"}, "mark": {"type": "line", "stroke": "#8b1a1a", "strokeWidth": 1, "strokeDash": [4,3], "interpolate": "monotone"},
 "encoding": {"x": {"field": "i", "type": "quantitative", "scale": {"domain": [-2.87, 311.96], "nice": false, "zero": false}}, "y": {"field": "lb", "type": "quantitative", "scale": {"domain": [1.1179, 1.19654], "nice": false, "zero": false}}}},
{"data": {"name": "ind"}, "mark": {"type": "line", "stroke": "#8b1a1a", "strokeWidth": 1.5, "interpolate": "monotone"},
 "encoding": {"x": {"field": "i", "type": "quantitative", "scale": {"domain": [-2.87, 311.96], "nice": false, "zero": false}}, "y": {"field": "ma", "type": "quantitative", "scale": {"domain": [1.1179, 1.19654], "nice": false, "zero": false}}}},
{"data": {"name": "ind"}, "mark": {"type": "line", "stroke": "#e01010", "strokeWidth": 3, "strokeDash": [8,5], "interpolate": "monotone"},
 "encoding": {"x": {"field": "i", "type": "quantitative", "scale": {"domain": [-2.87, 311.96], "nice": false, "zero": false}}, "y": {"field": "sr", "type": "quantitative", "scale": {"domain": [1.1179, 1.19654], "nice": false, "zero": false}}}},
{"data": {"name": "ind"}, "mark": {"type": "line", "stroke": "#1414c8", "strokeWidth": 4, "interpolate": "monotone"},
 "encoding": {"x": {"field": "i", "type": "quantitative", "scale": {"domain": [-2.87, 311.96], "nice": false, "zero": false}}, "y": {"field": "sl", "type": "quantitative", "scale": {"domain": [1.1179, 1.19654], "nice": false, "zero": false}}}},
{"data": {"name": "ind"}, "mark": {"type": "line", "stroke": "#3a6ea5", "strokeWidth": 2, "strokeDash": [5,4], "interpolate": "monotone"},
 "encoding": {"x": {"field": "i", "type": "quantitative", "scale": {"domain": [-2.87, 311.96], "nice": false, "zero": false}}, "y": {"field": "sm", "type": "quantitative", "scale": {"domain": [1.1179, 1.19654], "nice": false, "zero": false}}}},
{"data": {"name": "ind"}, "mark": {"type": "line", "stroke": "#5aa0e0", "strokeWidth": 1, "interpolate": "monotone"},
 "encoding": {"x": {"field": "i", "type": "quantitative", "scale": {"domain": [-2.87, 311.96], "nice": false, "zero": false}}, "y": {"field": "sf", "type": "quantitative", "scale": {"domain": [1.1179, 1.19654], "nice": false, "zero": false}}}},
{"data": {"name": "fib"}, "mark": {"type": "text", "align": "left", "baseline": "bottom", "dy": -1, "fontSize": 8},
 "encoding": {"x": {"datum": 230.6, "type": "quantitative", "scale": {"domain": [-2.87, 311.96], "nice": false, "zero": false}}, "y": {"field": "v", "type": "quantitative", "scale": {"domain": [1.1179, 1.19654], "nice": false, "zero": false}}, "text": {"field": "t"},
  "color": {"field": "k", "type": "nominal", "legend": null}}},
{"data": {"name": "one"}, "mark": {"type": "text", "text": "EUR / USD 4H", "fontSize": 20, "fill": "#e00000", "align": "center", "baseline": "middle"},
 "encoding": {"x": {"datum": 191, "type": "quantitative", "scale": {"domain": [-2.87, 311.96], "nice": false, "zero": false}}, "y": {"datum": 1.1844, "type": "quantitative", "scale": {"domain": [1.1179, 1.19654], "nice": false, "zero": false}}}},
{"data": {"name": "leg"}, "mark": {"type": "text", "align": "left", "baseline": "middle", "fontSize": 7.5, "fill": "#333"},
 "encoding": {"x": {"field": "i", "type": "quantitative", "scale": {"domain": [-2.87, 311.96], "nice": false, "zero": false}}, "y": {"datum": 1.12046, "type": "quantitative", "scale": {"domain": [1.1179, 1.19654], "nice": false, "zero": false}}, "text": {"field": "t"}}},
{"data": {"name": "legsym"}, "mark": {"type": "point", "shape": "square", "filled": true, "size": 30, "opacity": 1},
 "encoding": {"x": {"field": "i", "type": "quantitative", "scale": {"domain": [-2.87, 311.96], "nice": false, "zero": false}}, "y": {"datum": 1.12046, "type": "quantitative", "scale": {"domain": [1.1179, 1.19654], "nice": false, "zero": false}}, "color": {"field": "k", "type": "nominal", "legend": null}}},
{"data": {"name": "legicon"}, "mark": {"type": "point", "shape": "square", "filled": false, "size": 25, "strokeWidth": 1.2, "strokeDash": [2,1], "opacity": 1},
 "encoding": {"x": {"field": "i", "type": "quantitative", "scale": {"domain": [-2.87, 311.96], "nice": false, "zero": false}}, "y": {"datum": 1.12046, "type": "quantitative", "scale": {"domain": [1.1179, 1.19654], "nice": false, "zero": false}}, "color": {"field": "k", "type": "nominal", "legend": null}}},
{"data": {"name": "plabels"}, "mark": {"type": "text", "align": "left", "baseline": "middle", "fontSize": 9, "fill": "#000"},
 "encoding": {"x": {"datum": 313.8, "type": "quantitative", "scale": {"domain": [-2.87, 311.96], "nice": false, "zero": false}}, "y": {"field": "v", "type": "quantitative", "scale": {"domain": [1.1179, 1.19654], "nice": false, "zero": false}}, "text": {"field": "t"}}},
{"data": {"name": "tags"}, "mark": {"type": "bar", "orient": "horizontal", "size": 11},
 "encoding": {"x": {"datum": 313.0, "type": "quantitative", "scale": {"domain": [-2.87, 311.96], "nice": false, "zero": false}}, "x2": {"datum": 327}, "y": {"field": "v", "type": "quantitative", "scale": {"domain": [1.1179, 1.19654], "nice": false, "zero": false}}, "color": {"field": "k", "type": "nominal", "legend": null}}},
{"data": {"name": "tags"}, "mark": {"type": "point", "shape": "triangle-left", "filled": true, "size": 55, "opacity": 1},
 "encoding": {"x": {"datum": 312.4, "type": "quantitative", "scale": {"domain": [-2.87, 311.96], "nice": false, "zero": false}}, "y": {"field": "v", "type": "quantitative", "scale": {"domain": [1.1179, 1.19654], "nice": false, "zero": false}}, "color": {"field": "k", "type": "nominal", "legend": null}}},
{"data": {"name": "tags"}, "mark": {"type": "text", "align": "left", "baseline": "middle", "fontSize": 7.5, "fill": "#ffffff"},
 "encoding": {"x": {"datum": 313.4, "type": "quantitative", "scale": {"domain": [-2.87, 311.96], "nice": false, "zero": false}}, "y": {"field": "v", "type": "quantitative", "scale": {"domain": [1.1179, 1.19654], "nice": false, "zero": false}}, "text": {"field": "t"}}}
]
},
{
"width": 987, "height": 78,
"layer": [
{"data": {"name": "stoch"}, "mark": {"type": "area", "fill": "#d3d8de"},
 "encoding": {
  "x": {"field": "i", "type": "quantitative", "scale": {"domain": [-2.87, 311.96], "nice": false, "zero": false}, "axis": {"orient": "bottom", "values": [3,4,10,16,22,28,34,35,41,47,53,59,65,66,72,78,84,90,96,97,103,109,115,121,127,128,134,140,146,152,158,159,165,171,177,183,189,190,196,202,208,214,220,221,227,233,239,245,251,252,258,264,270,276,282,283,289,295,301,307], "grid": true, "gridDash": [3,2], "gridColor": "#aaaaaa", "labels": false, "ticks": false, "domainColor": "#000", "domainWidth": 1, "title": null}},
  "y": {"field": "k", "type": "quantitative", "scale": {"domain": [-31.9, 114.4], "nice": false, "zero": false}, "axis": {"orient": "right", "values": [0,50,100], "labelExpr": "datum.value == 50 ? '' : datum.label", "grid": true, "gridDash": [1,2], "gridColor": "#8a8a8a", "tickSize": 4, "tickColor": "#000", "domainColor": "#666", "labelPadding": 2, "labelColor": "#000", "labelOverlap": false, "title": null}},
  "y2": {"field": "lo"}}},
{"data": {"name": "stoch"}, "mark": {"type": "area", "fill": "#f5b184"},
 "encoding": {"x": {"field": "i", "type": "quantitative", "scale": {"domain": [-2.87, 311.96], "nice": false, "zero": false}}, "y": {"field": "d", "type": "quantitative", "scale": {"domain": [-31.9, 114.4], "nice": false, "zero": false}}, "y2": {"field": "lo"}}},
{"data": {"name": "one"}, "mark": {"type": "rule", "stroke": "#e06a6a", "strokeWidth": 1.2},
 "encoding": {"x": {"datum": -2.87, "type": "quantitative", "scale": {"domain": [-2.87, 311.96], "nice": false, "zero": false}}, "x2": {"datum": 311.96}, "y": {"datum": 80, "type": "quantitative", "scale": {"domain": [-31.9, 114.4], "nice": false, "zero": false}}}},
{"data": {"name": "one"}, "mark": {"type": "rule", "stroke": "#8fd88f", "strokeWidth": 1.2},
 "encoding": {"x": {"datum": -2.87, "type": "quantitative", "scale": {"domain": [-2.87, 311.96], "nice": false, "zero": false}}, "x2": {"datum": 311.96}, "y": {"datum": 20, "type": "quantitative", "scale": {"domain": [-31.9, 114.4], "nice": false, "zero": false}}}},
{"data": {"name": "stoch"}, "mark": {"type": "line", "stroke": "#5e7088", "strokeWidth": 1},
 "encoding": {"x": {"field": "i", "type": "quantitative", "scale": {"domain": [-2.87, 311.96], "nice": false, "zero": false}}, "y": {"field": "k", "type": "quantitative", "scale": {"domain": [-31.9, 114.4], "nice": false, "zero": false}}}},
{"data": {"name": "stoch"}, "mark": {"type": "line", "stroke": "#5a4030", "strokeWidth": 1},
 "encoding": {"x": {"field": "i", "type": "quantitative", "scale": {"domain": [-2.87, 311.96], "nice": false, "zero": false}}, "y": {"field": "d", "type": "quantitative", "scale": {"domain": [-31.9, 114.4], "nice": false, "zero": false}}}},
{"data": {"name": "slegsym"}, "mark": {"type": "point", "shape": "square", "filled": true, "size": 30, "opacity": 1},
 "encoding": {"x": {"field": "i", "type": "quantitative", "scale": {"domain": [-2.87, 311.96], "nice": false, "zero": false}}, "y": {"datum": -17, "type": "quantitative", "scale": {"domain": [-31.9, 114.4], "nice": false, "zero": false}}, "color": {"field": "k", "type": "nominal", "legend": null, "scale": {"domain": ["K","D"], "range": ["#1f4e79","#843c0c"]}}}},
{"data": {"name": "slegtxt"}, "mark": {"type": "text", "align": "left", "baseline": "middle", "fontSize": 7, "fill": "#333"},
 "encoding": {"x": {"field": "i", "type": "quantitative", "scale": {"domain": [-2.87, 311.96], "nice": false, "zero": false}}, "y": {"datum": -17, "type": "quantitative", "scale": {"domain": [-31.9, 114.4], "nice": false, "zero": false}}, "text": {"field": "t"}}},
{"data": {"name": "stags"}, "mark": {"type": "bar", "orient": "horizontal", "size": 11},
 "encoding": {"x": {"datum": 313.0, "type": "quantitative", "scale": {"domain": [-2.87, 311.96], "nice": false, "zero": false}}, "x2": {"datum": 327}, "y": {"field": "v", "type": "quantitative", "scale": {"domain": [-31.9, 114.4], "nice": false, "zero": false}}, "color": {"field": "k", "type": "nominal", "legend": null}}},
{"data": {"name": "stags"}, "mark": {"type": "point", "shape": "triangle-left", "filled": true, "size": 55, "opacity": 1},
 "encoding": {"x": {"datum": 312.4, "type": "quantitative", "scale": {"domain": [-2.87, 311.96], "nice": false, "zero": false}}, "y": {"field": "v", "type": "quantitative", "scale": {"domain": [-31.9, 114.4], "nice": false, "zero": false}}, "color": {"field": "k", "type": "nominal", "legend": null}}},
{"data": {"name": "stags"}, "mark": {"type": "text", "align": "left", "baseline": "middle", "fontSize": 7.5, "fill": "#ffffff"},
 "encoding": {"x": {"datum": 313.4, "type": "quantitative", "scale": {"domain": [-2.87, 311.96], "nice": false, "zero": false}}, "y": {"field": "v", "type": "quantitative", "scale": {"domain": [-31.9, 114.4], "nice": false, "zero": false}}, "text": {"field": "t"}}}
]
},
{
"width": 987, "height": 33,
"layer": [
{"data": {"name": "days"}, "mark": {"type": "text", "align": "center", "baseline": "middle", "fontSize": 9, "fill": "#222"},
 "encoding": {"x": {"field": "i", "type": "quantitative", "scale": {"domain": [-2.87, 311.96], "nice": false, "zero": false}, "axis": null}, "y": {"datum": 2.5, "type": "quantitative", "scale": {"domain": [0, 3], "nice": false, "zero": false}, "axis": null}, "text": {"field": "d"}}},
{"data": {"name": "months"}, "mark": {"type": "text", "align": "center", "baseline": "middle", "fontSize": 9, "fill": "#222"},
 "encoding": {"x": {"field": "i", "type": "quantitative", "scale": {"domain": [-2.87, 311.96], "nice": false, "zero": false}}, "y": {"datum": 1.5, "type": "quantitative", "scale": {"domain": [0, 3], "nice": false, "zero": false}}, "text": {"field": "m"}}},
{"data": {"name": "foot"}, "mark": {"type": "text", "align": "left", "baseline": "middle", "fontSize": 8, "fill": "#222"},
 "encoding": {"x": {"field": "i", "type": "quantitative", "scale": {"domain": [-2.87, 311.96], "nice": false, "zero": false}}, "y": {"datum": 0.5, "type": "quantitative", "scale": {"domain": [0, 3], "nice": false, "zero": false}}, "text": {"field": "t"}}},
{"data": {"name": "foot2"}, "mark": {"type": "text", "align": "center", "baseline": "middle", "fontSize": 8, "fill": "#222"},
 "encoding": {"x": {"field": "i", "type": "quantitative", "scale": {"domain": [-2.87, 311.96], "nice": false, "zero": false}}, "y": {"datum": 0.5, "type": "quantitative", "scale": {"domain": [0, 3], "nice": false, "zero": false}}, "text": {"field": "t"}}},
{"data": {"name": "foot3"}, "mark": {"type": "text", "align": "right", "baseline": "middle", "fontSize": 8, "fill": "#222"},
 "encoding": {"x": {"field": "i", "type": "quantitative", "scale": {"domain": [-2.87, 311.96], "nice": false, "zero": false}}, "y": {"datum": 0.5, "type": "quantitative", "scale": {"domain": [0, 3], "nice": false, "zero": false}}, "text": {"field": "t"}}},
{"data": {"name": "seps"}, "mark": {"type": "rule", "stroke": "#222", "strokeWidth": 1},
 "encoding": {"x": {"field": "i", "type": "quantitative", "scale": {"domain": [-2.87, 311.96], "nice": false, "zero": false}}, "y": {"datum": 0.25, "type": "quantitative", "scale": {"domain": [0, 3], "nice": false, "zero": false}}, "y2": {"datum": 3}}}
]
}
]
}
